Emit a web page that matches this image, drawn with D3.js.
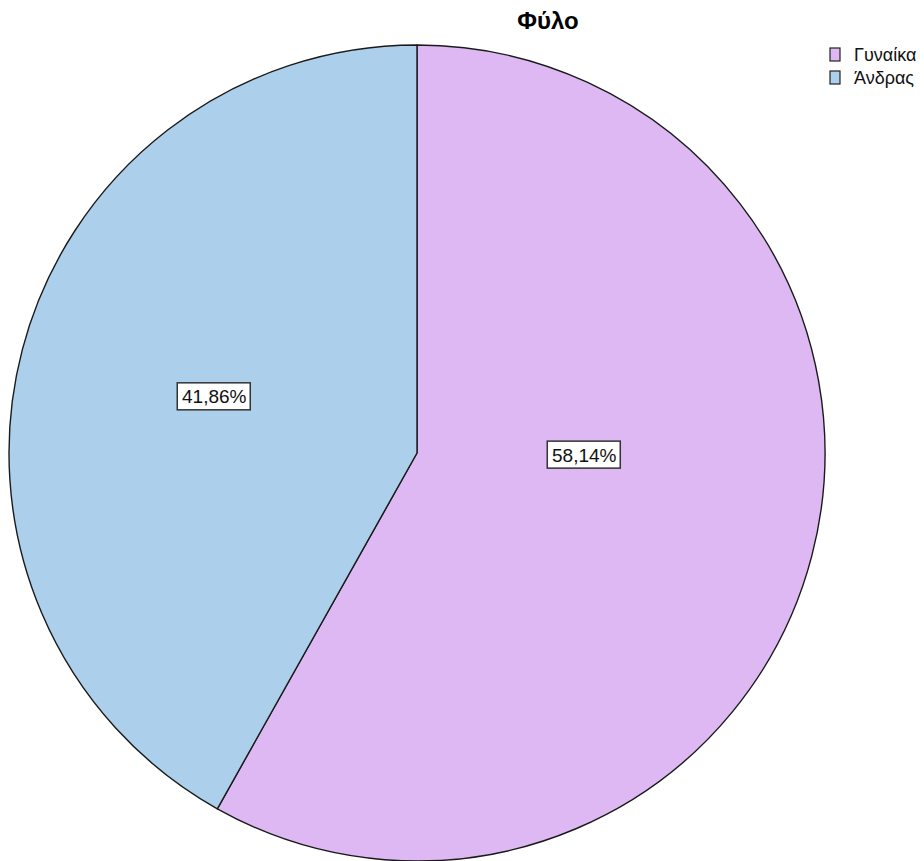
<!DOCTYPE html>
<html><head><meta charset="utf-8">
<script src="https://cdn.jsdelivr.net/npm/d3@7"></script>
<style>body{margin:0;background:#fff}</style>
</head><body>
<svg id="chart" width="924" height="861"></svg>
<script>
const title = "Φύλο";
const categories = ["Γυναίκα", "Άνδρας"];
const counts = [25, 18];
const percentLabels = ["58,14%", "41,86%"];
const colors = ["#ddb8f2", "#accfec"];

const svg = d3.select("#chart");
const cx = 417, cy = 453, R = 408;
const font = "Liberation Sans, Arial, sans-serif";

const pie = d3.pie().sort(null).value(d => d)(counts);
const arc = d3.arc().innerRadius(0).outerRadius(R);
const color = d3.scaleOrdinal().domain(categories).range(colors);

const g = svg.append("g").attr("transform", `translate(${cx},${cy})`);
g.selectAll("path.slice").data(pie).join("path")
  .attr("class", "slice")
  .attr("d", arc)
  .attr("fill", (d, i) => color(categories[i]))
  .attr("stroke", "#1a1a1a")
  .attr("stroke-width", 1.4)
  .attr("stroke-linejoin", "round");

// label placement (SPSS-like)
const labelPos = (d, i) => {
  const mid = (d.startAngle + d.endAngle) / 2;
  const a = i === 0 ? mid - 0.243 : mid + 0.01;
  const r = i === 0 ? R * 0.41 : R * 0.515;
  return [Math.sin(a) * r, -Math.cos(a) * r - (i === 0 ? 0 : 1)];
};
const lbl = g.selectAll("g.lbl").data(pie).join("g")
  .attr("class", "lbl")
  .attr("transform", (d, i) => `translate(${labelPos(d, i)})`);
lbl.append("rect")
  .attr("x", -37).attr("y", -14).attr("width", 73).attr("height", 27)
  .attr("fill", "#fff").attr("stroke", "#333").attr("stroke-width", 1.5);
lbl.append("text")
  .attr("text-anchor", "middle").attr("y", 6.5)
  .attr("font-family", font)
  .attr("font-size", 19).attr("fill", "#111")
  .text((d, i) => percentLabels[i]);

svg.append("text")
  .attr("x", 548).attr("y", 29)
  .attr("text-anchor", "middle")
  .attr("font-family", font)
  .attr("font-weight", "bold").attr("font-size", 24)
  .text(title);

const leg = svg.append("g").attr("transform", "translate(830,48)");
const li = leg.selectAll("g").data(categories).join("g")
  .attr("transform", (d, i) => `translate(0,${i * 23})`);
li.append("rect").attr("width", 10).attr("height", 13)
  .attr("fill", d => color(d)).attr("stroke", "#222").attr("stroke-width", 1.2);
li.append("text").attr("x", 24).attr("y", 13)
  .attr("font-family", font)
  .attr("font-size", 18).attr("fill", "#111")
  .text(d => d);
</script>
</body></html>
